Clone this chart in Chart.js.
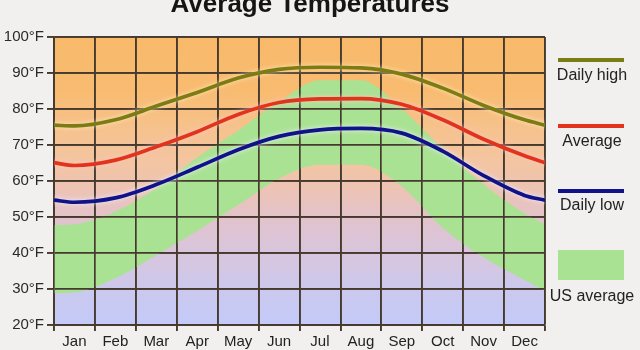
<!DOCTYPE html>
<html>
<head>
<meta charset="utf-8">
<script src="https://cdn.jsdelivr.net/npm/chart.js@4.4.1/dist/chart.umd.min.js"></script>
<style>
html,body{margin:0;padding:0;background:#f2f0ee;}
#wrap{position:relative;width:640px;height:350px;overflow:hidden;font-family:"Liberation Sans",Arial,sans-serif;}
#c{position:absolute;left:0;top:0;}
#title{position:absolute;left:0;width:620px;top:-10px;text-align:center;font-weight:bold;font-size:26px;line-height:26px;color:#151515;}
.lg{position:absolute;left:546px;width:92px;text-align:center;font-size:16px;line-height:18px;color:#222;}
.ln{position:absolute;left:558px;width:66px;height:4px;}
.bx{position:absolute;left:558px;width:66px;height:30px;}
</style>
</head>
<body>
<div id="wrap">
  <canvas id="c" width="640" height="350"></canvas>
  <div id="title">Average Temperatures</div>
  <div class="ln" style="top:58px;background:#7c7c14"></div>
  <div class="lg" style="top:66px">Daily high</div>
  <div class="ln" style="top:124px;background:#e2341c"></div>
  <div class="lg" style="top:132px">Average</div>
  <div class="ln" style="top:189px;background:#10128a"></div>
  <div class="lg" style="top:196px">Daily low</div>
  <div class="bx" style="top:250px;background:#a9e293"></div>
  <div class="lg" style="top:287px">US average</div>
</div>
<script>
// Categories (month labels, placed at mid-month)
const months = ['Jan','Feb','Mar','Apr','May','Jun','Jul','Aug','Sep','Oct','Nov','Dec'];
// Each series: value at Jan 1, then mid-month Jan..Dec, then Dec 31
const dailyHigh = [75.5, 75.3, 77.0, 80.8, 84.6, 88.6, 91.0, 91.6, 91.4, 89.7, 85.8, 81.0, 77.0, 75.5];
const average   = [65.1, 64.3, 65.8, 69.5, 73.7, 78.5, 81.8, 82.8, 82.9, 81.3, 77.0, 71.6, 67.0, 65.1];
const dailyLow  = [54.7, 54.1, 55.3, 59.0, 63.8, 68.7, 72.4, 74.2, 74.6, 73.3, 68.3, 61.5, 56.0, 54.7];
const usHigh    = [47.8, 48.0, 51.5, 58.0, 66.5, 74.0, 82.0, 88.0, 88.0, 80.0, 69.0, 59.0, 51.0, 48.0];
const usLow     = [28.8, 29.0, 33.0, 39.4, 46.2, 53.3, 60.7, 64.5, 64.5, 58.5, 47.0, 38.8, 32.5, 29.5];
// Y axis tick values (°F)
const yTicks = [20, 30, 40, 50, 60, 70, 80, 90, 100];

// x positions in month units: year start, mid-months, year end
const xPos = [0].concat(months.map((m, i) => i + 0.5), [months.length]);
const toPts = arr => arr.map((v, i) => ({x: xPos[i], y: v}));

const FONT = '"Liberation Sans", Arial, sans-serif';
const GRID = '#463a2f';

const bgPlugin = {
  id: 'bgGradient',
  beforeDraw(chart) {
    const {ctx, chartArea: a, scales: {y}} = chart;
    const g = ctx.createLinearGradient(0, y.getPixelForValue(100), 0, y.getPixelForValue(20));
    const stops = [[100,'#f8b96a'],[85,'#f8bb70'],[75,'#f6c28c'],[65,'#f3c5a2'],[57,'#ecc3b6'],[48,'#e0c3d0'],[38,'#d6c6e0'],[28,'#c9c9f0'],[20,'#c4caf8']];
    stops.forEach(([v, c]) => g.addColorStop((100 - v) / 80, c));
    ctx.save();
    ctx.globalCompositeOperation = 'destination-over';
    ctx.fillStyle = g;
    ctx.fillRect(a.left, a.top, a.right - a.left, a.bottom - a.top);
    ctx.restore();
  }
};

// draws line glows, and repaints the library's grid just above the US-average band
const layerPlugin = {
  id: 'layers',
  beforeDatasetDraw(chart, args) {
    const ds = chart.data.datasets[args.index];
    if (ds.glow) {
      chart.ctx.save();
      chart.ctx.shadowColor = ds.glow;
      chart.ctx.shadowBlur = 5;
    }
  },
  afterDatasetDraw(chart, args) {
    const ds = chart.data.datasets[args.index];
    if (ds.glow) chart.ctx.restore();
    if (ds.gridAbove) {
      chart.scales.x.drawGrid(chart.chartArea);
      chart.scales.y.drawGrid(chart.chartArea);
    }
  }
};

Chart.defaults.font.family = FONT;

new Chart(document.getElementById('c'), {
  type: 'line',
  data: {
    datasets: [
      {label: 'US average low', data: toPts(usLow), order: 10, borderWidth: 0, borderColor: 'rgba(0,0,0,0)', backgroundColor: 'rgba(0,0,0,0)', fill: false, pointRadius: 0},
      {label: 'US average', data: toPts(usHigh), order: 10, borderWidth: 0, borderColor: 'rgba(0,0,0,0)', backgroundColor: '#a9e293', fill: '-1', pointRadius: 0, gridAbove: true},
      {label: 'Daily high', data: toPts(dailyHigh), order: 3, borderColor: '#7c7c14', borderWidth: 3.7, fill: false, pointRadius: 0, glow: 'rgba(255,235,190,0.9)'},
      {label: 'Average', data: toPts(average), order: 2, borderColor: '#e2341c', borderWidth: 3.7, fill: false, pointRadius: 0, glow: 'rgba(255,200,200,0.9)'},
      {label: 'Daily low', data: toPts(dailyLow), order: 1, borderColor: '#10128a', borderWidth: 3.7, fill: false, pointRadius: 0, glow: 'rgba(235,235,255,1)'}
    ]
  },
  options: {
    responsive: false,
    animation: false,
    devicePixelRatio: 1,
    layout: {padding: {left: 0, right: 95, top: 37, bottom: 0}},
    plugins: {
      legend: {display: false},
      tooltip: {enabled: false}
    },
    elements: {line: {cubicInterpolationMode: 'monotone', borderCapStyle: 'round'}},
    scales: {
      x: {
        type: 'linear', min: 0, max: months.length,
        afterBuildTicks: s => { const t = []; for (let i = 0; i <= months.length * 2; i++) t.push({value: i / 2}); s.ticks = t; },
        afterFit: s => { s.height = 25; },
        ticks: {
          autoSkip: false, maxRotation: 0, minRotation: 0, padding: 2,
          font: {size: 15}, color: '#222',
          callback: v => Number.isInteger(v) ? '' : months[Math.floor(v)]
        },
        grid: {
          color: c => (c.tick && Number.isInteger(c.tick.value)) ? GRID : 'rgba(0,0,0,0)',
          lineWidth: 1.7, tickLength: 6
        },
        border: {color: GRID, width: 1.7}
      },
      y: {
        min: yTicks[0], max: yTicks[yTicks.length - 1],
        afterBuildTicks: s => { s.ticks = yTicks.map(v => ({value: v})); },
        afterFit: s => { s.width = 54; },
        ticks: {font: {size: 15}, color: '#2a2a2a', padding: 3, callback: v => v + '°F'},
        grid: {color: GRID, lineWidth: 1.7, tickLength: 7},
        border: {color: GRID, width: 1.7}
      }
    }
  },
  plugins: [bgPlugin, layerPlugin]
});
</script>
</body>
</html>
